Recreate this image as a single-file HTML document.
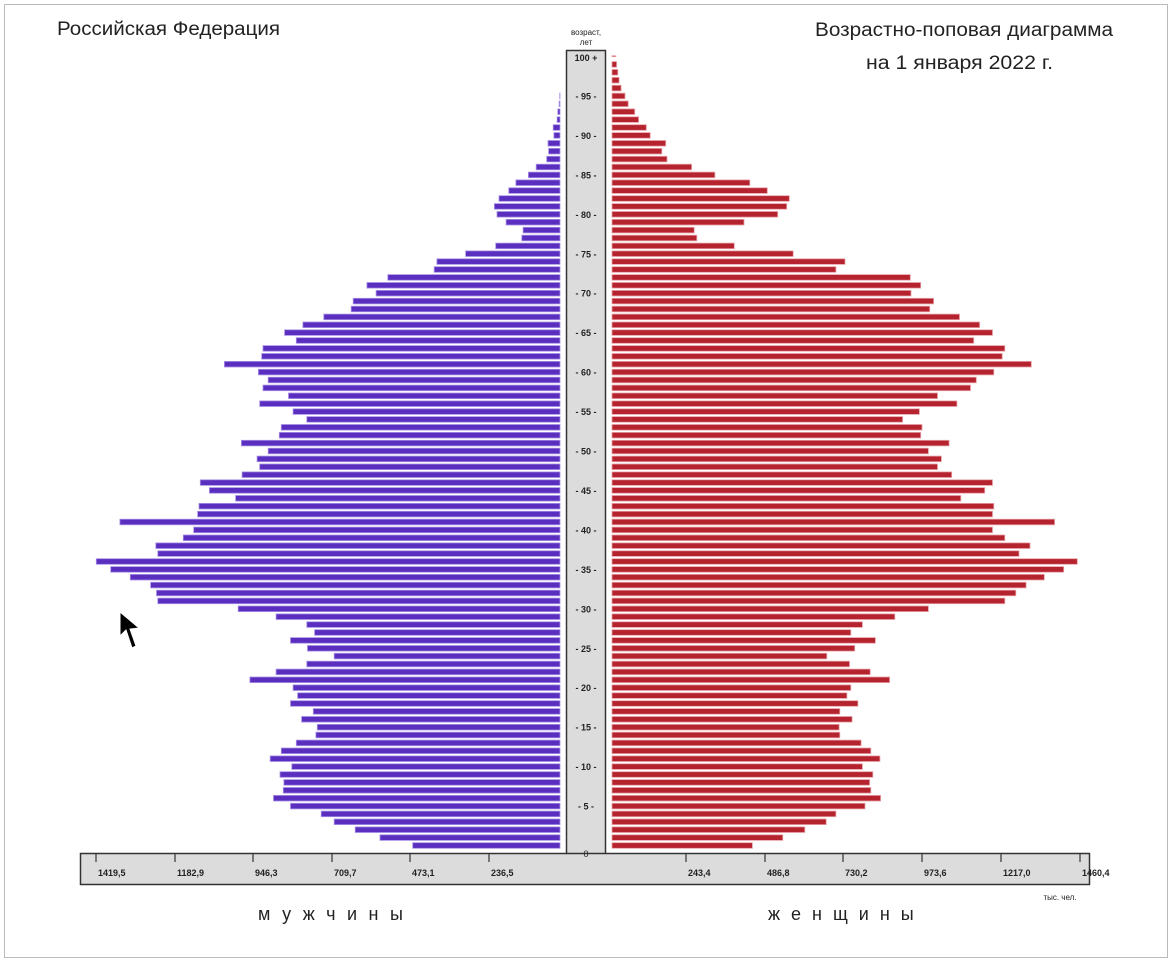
<!DOCTYPE html>
<html><head><meta charset="utf-8"><style>
body{margin:0;background:#fff;}
svg{display:block;font-family:"Liberation Sans",sans-serif;}
</style></head><body>
<svg id="s" width="1172" height="963" viewBox="0 0 1172 963">
<rect x="4.5" y="4.5" width="1163" height="953" fill="#fff" stroke="#bbb"/>
<text x="57" y="35" font-size="19" textLength="223" lengthAdjust="spacingAndGlyphs" fill="#222">Российская Федерация</text>
<text x="815" y="36" font-size="19" textLength="298" lengthAdjust="spacingAndGlyphs" fill="#222">Возрастно-поповая диаграмма</text>
<text x="866" y="69" font-size="19" textLength="187" lengthAdjust="spacingAndGlyphs" fill="#222">на 1 января 2022 г.</text>
<text x="586" y="35" font-size="8" text-anchor="middle" fill="#222">возраст,</text>
<text x="586" y="45" font-size="8" text-anchor="middle" fill="#222">лет</text>
<rect x="566" y="50" width="40" height="803" fill="#dcdcdc"/>
<line x1="566.5" y1="50" x2="566.5" y2="853" stroke="#333" stroke-width="1.5"/>
<line x1="605.5" y1="50" x2="605.5" y2="853" stroke="#333" stroke-width="1.5"/>
<line x1="566" y1="50.5" x2="606" y2="50.5" stroke="#333" stroke-width="1.5"/>
<text x="586" y="61" font-size="9" font-weight="bold" text-anchor="middle" fill="#222">100 +</text>
<rect x="80.5" y="853.5" width="1009" height="31" fill="#dcdcdc" stroke="#333" stroke-width="1.5"/>
<text x="586" y="857" font-size="9" text-anchor="middle" fill="#222">0</text>
<g id="ax" font-size="9" font-weight="bold" fill="#222"></g>
<g id="bars"></g>
<text x="258" y="920" font-size="18" letter-spacing="11.5" fill="#222">мужчины</text>
<text x="768" y="920" font-size="18" letter-spacing="11" fill="#222">женщины</text>
<text x="1060" y="900" font-size="8" text-anchor="middle" fill="#222">тыс. чел.</text>
<path d="M120 612 L120 636 L126 630 L132 648 L136 646 L130 629 L139 628 Z" fill="#000" stroke="#fff" stroke-width="1"/>
</svg>
<script>
var L=[509,459,421,389,369,322,296,311,312,306,324,291,308,331,361,363,339,357,322,333,326,260,300,347,389,348,322,359,347,300,242,119,117,108,77,47,25,119,116,158,174,61,180,182,238,198,184,248,275,271,288,247,305,308,347,326,275,319,280,288,273,221,278,280,331,313,341,373,415,418,453,439,471,542,546,590,636,676,678,652,638,634,641,656,667,686,698,714,717,716,725,724,730,731,733,734,735,736,736,737,737];
var R=[1031,1078,1112,1145,1160,1205,1229,1214,1212,1217,1201,1228,1214,1199,1166,1165,1185,1166,1194,1177,1183,1243,1213,1181,1146,1189,1221,1183,1201,1251,1303,1421,1438,1454,1482,1512,1533,1443,1460,1421,1402,1498,1402,1404,1353,1390,1402,1339,1317,1323,1303,1335,1291,1293,1263,1289,1347,1317,1368,1377,1404,1462,1417,1421,1373,1402,1382,1351,1305,1311,1276,1291,1275,1160,1174,1094,1003,945,941,1018,1070,1084,1088,1054,1027,973,937,899,891,897,873,867,855,849,839,834,828,825,823,821,820];
var g=document.getElementById('bars'),h='';
for(var a=0;a<=100;a++){
 var y=845.5-a*7.89-2.8;
 var xl=80+L[a]/1.53, xr=612+(80+R[a]/1.53-612)*0.99;
 var th=a==100?1:5.6;
 if(a==100)y+=2;
 h+='<rect x="'+xl.toFixed(1)+'" y="'+y.toFixed(1)+'" width="'+(560-xl).toFixed(1)+'" height="'+th+'" fill="#5a2fbf" stroke="#a890e6" stroke-width="0.8"/>';
 h+='<rect x="612" y="'+y.toFixed(1)+'" width="'+(xr-612).toFixed(1)+'" height="'+th+'" fill="#b5232e" stroke="#e8a0a6" stroke-width="0.8"/>';
}
g.innerHTML=h;
var ax='';
for(var a=5;a<100;a+=5){var y=845.5-a*7.89;ax+='<text x="586" y="'+(y+3.5)+'" text-anchor="middle">- '+a+' -</text>';}
var lt=[[96,'1419,5'],[175,'1182,9'],[253,'946,3'],[332,'709,7'],[410,'473,1'],[489,'236,5']];
var rt=[[686,'243,4'],[765,'486,8'],[843,'730,2'],[922,'973,6'],[1001,'1217,0'],[1080,'1460,4']];
lt.concat(rt).forEach(function(t){ax+='<line x1="'+t[0]+'" y1="854" x2="'+t[0]+'" y2="862" stroke="#333" stroke-width="1.2"/><text x="'+(t[0]+2)+'" y="876" font-size="9" font-weight="bold" fill="#222">'+t[1]+'</text>';});
document.getElementById('ax').innerHTML=ax;
</script>
</body></html>
